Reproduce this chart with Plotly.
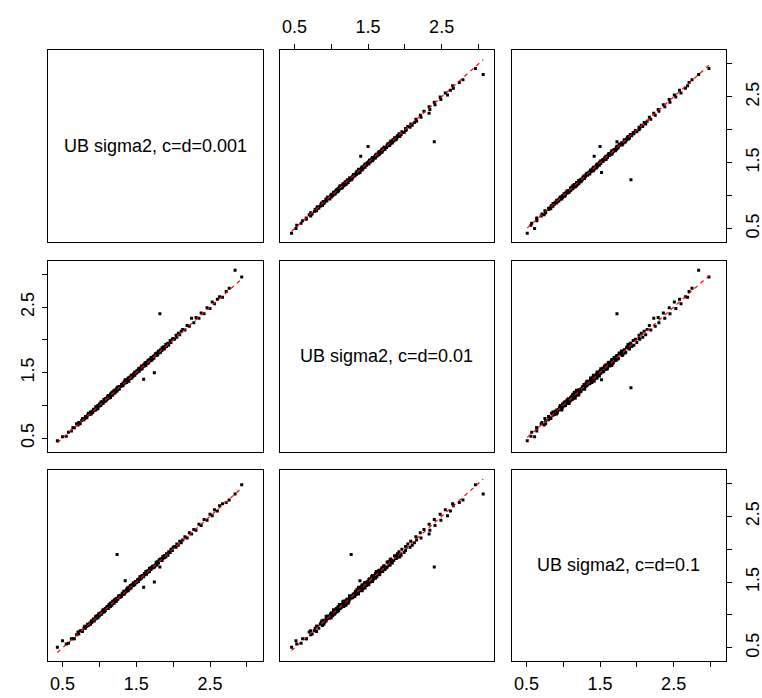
import plotly.graph_objects as go

# ---- data ----
v1 = [0.43, 0.50, 0.55, 0.58, 0.62, 0.64, 0.66, 0.69, 0.71, 0.72, 0.74, 0.76, 0.77, 0.79, 0.80, 0.81, 0.83, 0.84, 0.85, 0.87, 0.88, 0.89,
      0.90, 0.91, 0.92, 0.93, 0.94, 0.95, 0.95, 0.96, 0.97, 0.98, 0.98, 0.99, 1.00, 1.00, 1.01, 1.02, 1.02, 1.03, 1.04, 1.04, 1.05, 1.05, 1.06, 1.07, 1.07, 1.08, 1.08, 1.09, 1.10, 1.10,
      1.11, 1.11, 1.12, 1.12, 1.13, 1.13, 1.14, 1.14, 1.15, 1.15, 1.15, 1.16, 1.16, 1.17, 1.17, 1.18, 1.18, 1.18, 1.19, 1.19, 1.20, 1.20, 1.21, 1.21, 1.22, 1.22, 1.23, 1.23, 1.24, 1.25, 1.25, 1.26, 1.27, 1.27, 1.28, 1.29, 1.30,
      1.31, 1.32, 1.32, 1.33, 1.34, 1.35, 1.35, 1.36, 1.37, 1.37, 1.38, 1.39, 1.39, 1.40, 1.40, 1.41, 1.42, 1.42, 1.43, 1.44, 1.44, 1.45, 1.46, 1.46, 1.47, 1.48, 1.48, 1.49, 1.50, 1.50,
      1.51, 1.52, 1.52, 1.53, 1.54, 1.55, 1.55, 1.56, 1.57, 1.57, 1.58, 1.59, 1.60, 1.60, 1.61, 1.62, 1.62, 1.63, 1.64, 1.64, 1.65, 1.66, 1.66, 1.67, 1.68, 1.68, 1.69, 1.70, 1.70, 1.71,
      1.72, 1.73, 1.74, 1.745, 1.75, 1.76, 1.77, 1.78, 1.78, 1.79, 1.80, 1.80, 1.81, 1.82, 1.83, 1.83, 1.84, 1.85, 1.85, 1.86, 1.87, 1.88, 1.88, 1.89, 1.90, 1.91, 1.92,
      1.93, 1.94, 1.96, 1.97, 1.99, 2.00, 2.02, 2.04, 2.05, 2.07, 2.09, 2.11, 2.13, 2.16, 2.19, 2.22,
      2.25, 2.28, 2.31, 2.35, 2.38, 2.42, 2.46, 2.50, 2.53, 2.56, 2.60, 2.63, 2.67, 2.72, 2.76,
      2.84, 2.93, 1.24]
v2 = [0.46, 0.52, 0.53, 0.59, 0.61, 0.66, 0.66, 0.72, 0.70, 0.74, 0.72, 0.77, 0.80, 0.78, 0.80, 0.83, 0.81, 0.85, 0.88, 0.86, 0.90, 0.87,
      0.91, 0.89, 0.94, 0.93, 0.93, 0.98, 0.93, 0.97, 0.97, 0.95, 1.00, 1.00, 0.99, 1.02, 1.01, 1.05, 1.00, 1.04, 1.03, 1.06, 1.05, 1.03, 1.09, 1.08, 1.06, 1.08, 1.10, 1.07, 1.11, 1.09,
      1.13, 1.10, 1.12, 1.15, 1.11, 1.14, 1.14, 1.13, 1.17, 1.12, 1.16, 1.16, 1.18, 1.16, 1.20, 1.18, 1.16, 1.19, 1.21, 1.18, 1.20, 1.23, 1.19, 1.22, 1.22, 1.21, 1.25, 1.24, 1.22, 1.28, 1.25, 1.25, 1.29, 1.25, 1.29, 1.29, 1.32,
      1.32, 1.30, 1.34, 1.33, 1.37, 1.39, 1.34, 1.37, 1.39, 1.35, 1.38, 1.42, 1.38, 1.41, 1.37, 1.43, 1.42, 1.41, 1.46, 1.45, 1.42, 1.45, 1.48, 1.45, 1.48, 1.51, 1.46, 1.49, 1.51, 1.49,
      1.53, 1.51, 1.53, 1.56, 1.52, 1.55, 1.57, 1.55, 1.58, 1.60, 1.56, 1.59, 1.40, 1.62, 1.60, 1.63, 1.65, 1.61, 1.64, 1.66, 1.64, 1.69, 1.66, 1.65, 1.69, 1.70, 1.68, 1.70, 1.73, 1.69,
      1.71, 1.75, 1.72, 1.50, 1.76, 1.79, 1.76, 1.78, 1.80, 1.77, 1.81, 1.83, 1.80, 2.40, 1.85, 1.81, 1.84, 1.88, 1.84, 1.87, 1.89, 1.86, 1.89, 1.89, 1.93, 1.90, 1.94,
      1.95, 1.92, 1.99, 1.96, 2.01, 2.02, 2.01, 2.07, 2.04, 2.10, 2.08, 2.13, 2.16, 2.15, 2.22, 2.21,
      2.33, 2.26, 2.34, 2.33, 2.41, 2.40, 2.49, 2.48, 2.58, 2.55, 2.62, 2.66, 2.65, 2.74, 2.79,
      3.065, 2.96, 1.27]
v3 = [0.51, 0.61, 0.56, 0.57, 0.64, 0.64, 0.64, 0.70, 0.74, 0.71, 0.76, 0.76, 0.75, 0.80, 0.83, 0.80, 0.83, 0.86, 0.84, 0.88, 0.86, 0.91,
      0.89, 0.92, 0.94, 0.91, 0.94, 0.96, 0.98, 0.95, 0.99, 0.98, 0.96, 1.02, 1.01, 0.99, 1.03, 1.02, 1.03, 1.01, 1.06, 1.04, 1.04, 1.08, 1.06, 1.05, 1.08, 1.10, 1.07, 1.10, 1.10, 1.12,
      1.11, 1.13, 1.10, 1.13, 1.16, 1.12, 1.16, 1.14, 1.13, 1.16, 1.18, 1.15, 1.16, 1.19, 1.15, 1.19, 1.21, 1.18, 1.18, 1.21, 1.21, 1.18, 1.21, 1.24, 1.21, 1.23, 1.25, 1.21, 1.24, 1.26, 1.24, 1.29, 1.27, 1.29, 1.27, 1.30, 1.28,
      1.33, 1.32, 1.31, 1.36, 1.32, 1.52, 1.36, 1.35, 1.37, 1.39, 1.41, 1.37, 1.40, 1.40, 1.42, 1.40, 1.45, 1.43, 1.41, 1.44, 1.46, 1.46, 1.45, 1.49, 1.47, 1.46, 1.49, 1.51, 1.49, 1.50,
      1.50, 1.54, 1.52, 1.51, 1.55, 1.58, 1.54, 1.58, 1.57, 1.56, 1.60, 1.60, 1.42, 1.58, 1.63, 1.62, 1.61, 1.66, 1.65, 1.62, 1.67, 1.66, 1.65, 1.68, 1.71, 1.66, 1.69, 1.72, 1.69, 1.72,
      1.74, 1.72, 1.75, 1.50, 1.73, 1.76, 1.80, 1.79, 1.76, 1.81, 1.80, 1.79, 1.84, 1.73, 1.83, 1.85, 1.83, 1.86, 1.83, 1.89, 1.87, 1.90, 1.87, 1.90, 1.88, 1.93, 1.92,
      1.91, 1.96, 1.95, 2.00, 1.98, 2.03, 2.04, 2.03, 2.08, 2.06, 2.12, 2.10, 2.14, 2.19, 2.17, 2.25,
      2.23, 2.30, 2.29, 2.38, 2.36, 2.45, 2.44, 2.53, 2.51, 2.60, 2.58, 2.66, 2.69, 2.71, 2.75,
      2.84, 2.98, 1.92]

var_names = ["UB sigma2, c=d=0.001", "UB sigma2, c=d=0.01", "UB sigma2, c=d=0.1"]
tick_vals = [0.5, 1.0, 1.5, 2.0, 2.5, 3.0]
tick_text = ["0.5", "", "1.5", "", "2.5", ""]

assert len(v1) == len(v2) == len(v3)
variables = [v1, v2, v3]

W, H = 762, 698
col_px = [(47.5, 262.5), (279.5, 494.0), (511.5, 726.0)]
row_px = [(50.0, 242.0), (260.5, 451.5), (469.5, 661.3)]
axis_range = [0.296, 3.212]
FONT = "Liberation Sans, Arial, Helvetica, sans-serif"

fig = go.Figure()
layout = {}
annotations = []

for r in range(3):
    for c in range(3):
        k = r * 3 + c + 1
        sfx = "" if k == 1 else str(k)
        xa = "x" + sfx
        ya = "y" + sfx
        xd = [col_px[c][0] / W, col_px[c][1] / W]
        yd = [1 - row_px[r][1] / H, 1 - row_px[r][0] / H]

        xax = dict(domain=xd, anchor=ya, range=axis_range, showgrid=False, zeroline=False,
                   showline=True, mirror=True, linecolor="black", linewidth=1, automargin=False,
                   tickvals=tick_vals, ticktext=tick_text, ticks="", showticklabels=False,
                   tickfont=dict(family=FONT, size=18, color="black"),
                   ticklen=5, tickcolor="black", tickwidth=1)
        yax = dict(domain=yd, anchor=xa, range=axis_range, showgrid=False, zeroline=False,
                   showline=True, mirror=True, linecolor="black", linewidth=1, automargin=False,
                   tickvals=tick_vals, ticktext=tick_text, ticks="", showticklabels=False,
                   tickfont=dict(family=FONT, size=18, color="black"),
                   ticklen=5, tickcolor="black", tickwidth=1, tickangle=-90)
        if r == 0 and c == 1:
            xax.update(side="top", ticks="outside", showticklabels=True, ticklabelstandoff=4)
        if r == 2 and c in (0, 2):
            xax.update(side="bottom", ticks="outside", showticklabels=True, ticklabelstandoff=1)
        if c == 0 and r == 1:
            yax.update(side="left", ticks="outside", showticklabels=True, ticklabelstandoff=0)
        if c == 2 and r in (0, 2):
            yax.update(side="right", ticks="outside", showticklabels=True, ticklabelstandoff=5)

        layout["xaxis" + sfx] = xax
        layout["yaxis" + sfx] = yax

        if r == c:
            # invisible placeholder so the panel frame and axes are drawn
            fig.add_trace(go.Scatter(x=[1.5], y=[1.5], mode="markers", xaxis=xa, yaxis=ya,
                                     marker=dict(opacity=0), showlegend=False, hoverinfo="skip"))
            annotations.append(dict(text=var_names[r], x=0.5 * (xd[0] + xd[1]), y=0.5 * (yd[0] + yd[1]),
                                    xref="paper", yref="paper", xanchor="center", yanchor="middle",
                                    showarrow=False,
                                    font=dict(family=FONT, size=18, color="black")))
        else:
            xs = variables[c]
            ys = variables[r]
            fig.add_trace(go.Scatter(x=xs, y=ys, mode="markers", xaxis=xa, yaxis=ya,
                                     marker=dict(symbol="square", size=3, color="black",
                                                 line=dict(width=0)),
                                     showlegend=False, hoverinfo="skip"))
            lo, hi = min(xs), max(xs)
            fig.add_trace(go.Scatter(x=[lo, hi], y=[lo, hi], mode="lines", xaxis=xa, yaxis=ya,
                                     line=dict(color="red", width=1.2, dash="4px,4px"),
                                     showlegend=False, hoverinfo="skip"))

fig.update_layout(width=W, height=H, margin=dict(l=0, r=0, t=0, b=0),
                  paper_bgcolor="white", plot_bgcolor="white",
                  annotations=annotations, **layout)
fig.write_html("out.html")
